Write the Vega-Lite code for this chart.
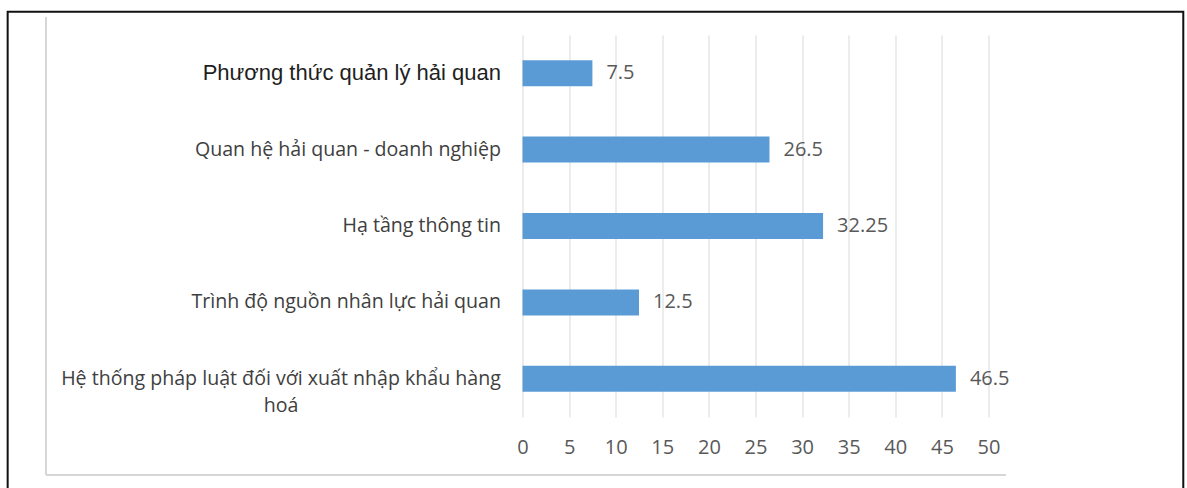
{
  "$schema": "https://vega.github.io/schema/vega-lite/v6.json",
  "width": 466,
  "height": 382,
  "autosize": {"type": "none"},
  "padding": {"left": 522.5, "top": 35, "right": 198.5, "bottom": 71},
  "background": "white",
  "config": {"view": {"stroke": null}, "font": "Open Sans"},
  "resolve": {"scale": {"y": "independent"}, "axis": {"y": "independent"}},
  "layer": [
    {
      "data": {
        "values": [
          {"yeu_to": "Phương thức quản lý hải quan", "diem": 7.5},
          {"yeu_to": "Quan hệ hải quan - doanh nghiệp", "diem": 26.5},
          {"yeu_to": "Hạ tầng thông tin", "diem": 32.25},
          {"yeu_to": "Trình độ nguồn nhân lực hải quan", "diem": 12.5},
          {"yeu_to": "Hệ thống pháp luật đối với xuất nhập khẩu hàng hoá", "diem": 46.5}
        ]
      },
      "encoding": {
        "y": {
          "field": "yeu_to",
          "type": "nominal",
          "sort": null,
          "scale": {"paddingInner": 0.66, "paddingOuter": 0.33},
          "axis": {
            "title": null,
            "domain": false,
            "ticks": false,
            "grid": false,
            "labelLimit": 700,
            "labelLineHeight": 27,
            "labelFontSize": {"condition": {"test": "datum.value === 'Phương thức quản lý hải quan'", "value": 22}, "value": 19.6},
            "labelColor": {"condition": {"test": "datum.value === 'Phương thức quản lý hải quan'", "value": "#1e1e1e"}, "value": "#404040"},
            "labelFont": {"condition": {"test": "datum.value === 'Phương thức quản lý hải quan'", "value": "Liberation Sans"}, "value": "Open Sans"},
            "labelAlign": {"condition": {"test": "datum.value === 'Hệ thống pháp luật đối với xuất nhập khẩu hàng hoá'", "value": "center"}, "value": "right"},
            "labelPadding": {"condition": {"test": "datum.value === 'Hệ thống pháp luật đối với xuất nhập khẩu hàng hoá'", "value": 242}, "value": 22},
            "labelExpr": "datum.value === 'Hệ thống pháp luật đối với xuất nhập khẩu hàng hoá' ? ['Hệ thống pháp luật đối với xuất nhập khẩu hàng', 'hoá'] : datum.label"
          }
        },
        "x": {
          "field": "diem",
          "type": "quantitative",
          "scale": {"domain": [0, 50], "nice": false},
          "axis": {
            "title": null,
            "values": [0, 5, 10, 15, 20, 25, 30, 35, 40, 45, 50],
            "grid": true,
            "gridColor": "#d9d9d9",
            "gridWidth": 1,
            "domain": false,
            "ticks": false,
            "tickSize": 0,
            "labelFlush": false,
            "labelOverlap": false,
            "labelPadding": 20,
            "labelFontSize": 20,
            "labelColor": "#595959",
            "labelFont": "Open Sans"
          }
        }
      },
      "layer": [
        {"mark": {"type": "bar", "color": "#5b9bd5"}},
        {
          "mark": {"type": "text", "align": "left", "baseline": "middle", "dx": 14, "fontSize": 20, "color": "#595959", "font": "Open Sans"},
          "encoding": {"text": {"field": "diem", "type": "quantitative", "format": "~g"}}
        }
      ]
    },
    {
      "data": {"values": [{}]},
      "mark": {"type": "rect", "fill": null, "stroke": "#111111", "strokeWidth": 2},
      "encoding": {
        "x": {"datum": -55.24, "type": "quantitative"},
        "x2": {"datum": 70.9},
        "y": {"datum": 1.061, "type": "quantitative", "scale": {"domain": [0, 1], "nice": false, "zero": false}, "axis": null},
        "y2": {"datum": -0.3}
      }
    },
    {
      "data": {"values": [{}]},
      "mark": {"type": "rule", "color": "#d6d6d6", "strokeWidth": 2},
      "encoding": {
        "x": {"datum": -51.13, "type": "quantitative"},
        "y": {"datum": 1.047, "type": "quantitative", "scale": {"domain": [0, 1], "nice": false, "zero": false}, "axis": null},
        "y2": {"datum": -0.1518}
      }
    },
    {
      "data": {"values": [{}]},
      "mark": {"type": "rule", "color": "#d6d6d6", "strokeWidth": 2},
      "encoding": {
        "x": {"datum": -51.13, "type": "quantitative"},
        "x2": {"datum": 51.88},
        "y": {"datum": -0.1518, "type": "quantitative", "scale": {"domain": [0, 1], "nice": false, "zero": false}, "axis": null}
      }
    }
  ]
}
